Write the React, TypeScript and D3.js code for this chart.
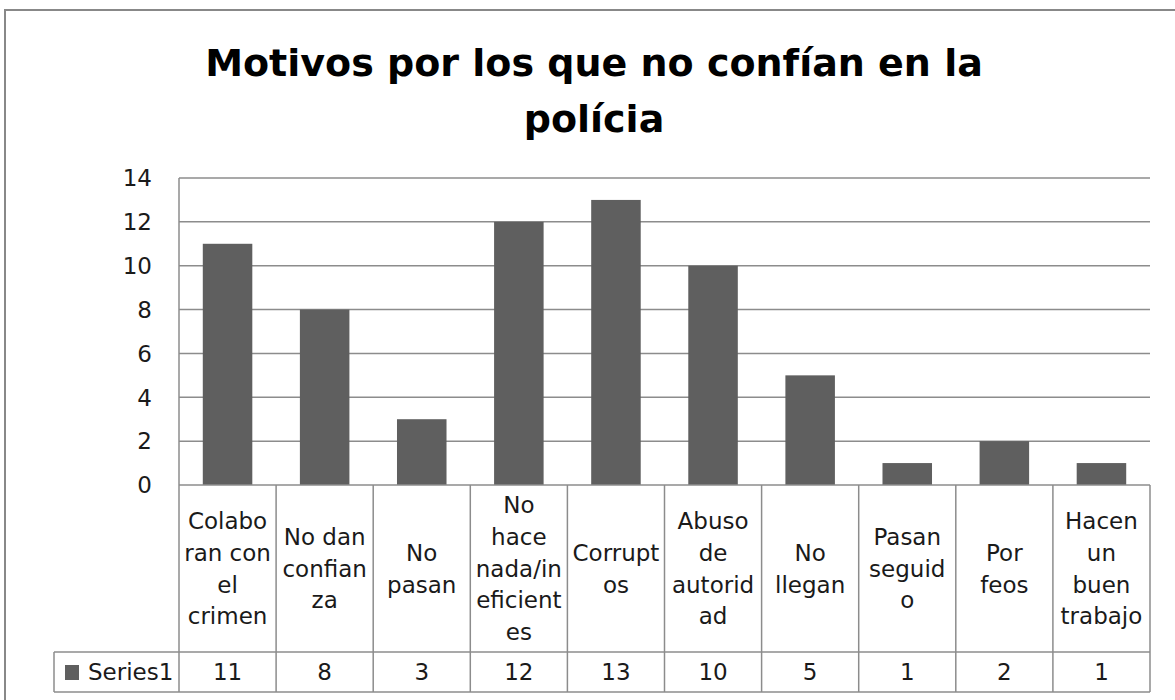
import React, { useEffect } from "react";
import * as d3 from "d3";

const title = ["Motivos por los que no confían en la", "polícia"];
const categories = [
  "Colaboran con el crimen",
  "No dan confianza",
  "No pasan",
  "No hace nada/ineficientes",
  "Corruptos",
  "Abuso de autoridad",
  "No llegan",
  "Pasan seguido",
  "Por feos",
  "Hacen un buen trabajo",
];
const categoryLines = [
  ["Colabo", "ran con", "el", "crimen"],
  ["No dan", "confian", "za"],
  ["No", "pasan"],
  ["No", "hace", "nada/in", "eficient", "es"],
  ["Corrupt", "os"],
  ["Abuso", "de", "autorid", "ad"],
  ["No", "llegan"],
  ["Pasan", "seguid", "o"],
  ["Por", "feos"],
  ["Hacen", "un", "buen", "trabajo"],
];
const seriesName = "Series1";
const values = [11, 8, 3, 12, 13, 10, 5, 1, 2, 1];
const yTicks = [0, 2, 4, 6, 8, 10, 12, 14];

export default function App() {
  useEffect(() => {
    document.body.style.margin = "0";
  }, []);

  const W = 1175;
  const H = 700;
  const plotLeft = 179;
  const plotRight = 1150;
  const plotTop = 178;
  const plotBottom = 485;
  const catRowBottom = 652;
  const tableBottom = 692;
  const tableLeft = 54;

  const x = d3.scaleBand<string>().domain(categories).range([plotLeft, plotRight]);
  const y = d3.scaleLinear().domain([0, 14]).range([plotBottom, plotTop]);
  const bw = x.bandwidth();
  const barW = bw * 0.51;
  const font = "'DejaVu Sans', sans-serif";
  const grid = "#8c8c8c";
  const lineH = 31.7;
  const catCenter = (plotBottom + catRowBottom) / 2;
  const fs = 23;
  const txt = "#1a1a1a";

  return (
    <svg width={W} height={H} style={{ display: "block", background: "#fff" }}>
      <rect x={5} y={10} width={1185} height={710} fill="#fff" stroke="#888" strokeWidth={2} />
      {title.map((t, i) => (
        <text
          key={i}
          x={594}
          y={76 + i * 56}
          textAnchor="middle"
          fontFamily={font}
          fontWeight="bold"
          fontSize={38}
          fill="#000"
        >
          {t}
        </text>
      ))}
      {yTicks.map((t) => (
        <g key={t}>
          {t > 0 && (
            <line x1={plotLeft} x2={plotRight} y1={y(t)} y2={y(t)} stroke={grid} strokeWidth={1.5} />
          )}
          <text
            x={152}
            y={y(t)}
            dy="0.36em"
            textAnchor="end"
            fontFamily={font}
            fontSize={fs}
            fill={txt}
          >
            {t}
          </text>
        </g>
      ))}
      {categories.map((c, i) => (
        <rect
          key={c}
          x={(x(c) as number) + (bw - barW) / 2}
          y={y(values[i])}
          width={barW}
          height={y(0) - y(values[i])}
          fill="#5f5f5f"
        />
      ))}
      <line x1={plotLeft} x2={plotLeft} y1={plotTop} y2={tableBottom} stroke={grid} strokeWidth={1.5} />
      <line x1={plotLeft} x2={plotRight} y1={plotBottom} y2={plotBottom} stroke={grid} strokeWidth={1.5} />
      <line x1={tableLeft} x2={plotRight} y1={catRowBottom} y2={catRowBottom} stroke={grid} strokeWidth={1.5} />
      <line x1={tableLeft} x2={plotRight} y1={tableBottom} y2={tableBottom} stroke={grid} strokeWidth={1.5} />
      <line x1={tableLeft} x2={tableLeft} y1={catRowBottom} y2={tableBottom} stroke={grid} strokeWidth={1.5} />
      {categories.map((c) => (
        <line
          key={"v" + c}
          x1={(x(c) as number) + bw}
          x2={(x(c) as number) + bw}
          y1={plotBottom}
          y2={tableBottom}
          stroke={grid}
          strokeWidth={1.5}
        />
      ))}
      {categories.map((c, i) => {
        const lines = categoryLines[i];
        const cx = (x(c) as number) + bw / 2;
        const startY = catCenter - ((lines.length - 1) * lineH) / 2;
        return (
          <text key={"t" + c} textAnchor="middle" fontFamily={font} fontSize={fs} fill={txt}>
            {lines.map((l, j) => (
              <tspan key={j} x={cx} y={startY + j * lineH} dy="0.36em">
                {l}
              </tspan>
            ))}
          </text>
        );
      })}
      <rect x={65} y={665} width={14} height={15} fill="#5f5f5f" />
      <text x={88} y={(catRowBottom + tableBottom) / 2} dy="0.36em" fontFamily={font} fontSize={fs} fill={txt}>
        {seriesName}
      </text>
      {categories.map((c, i) => (
        <text
          key={"val" + c}
          x={(x(c) as number) + bw / 2}
          y={(catRowBottom + tableBottom) / 2}
          dy="0.36em"
          textAnchor="middle"
          fontFamily={font}
          fontSize={fs}
          fill={txt}
        >
          {values[i]}
        </text>
      ))}
    </svg>
  );
}
